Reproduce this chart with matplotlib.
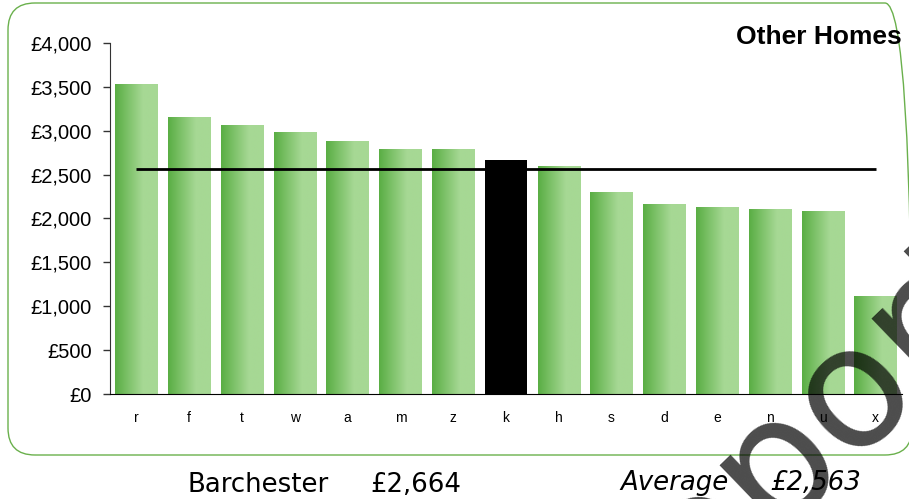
import numpy as np
import matplotlib
matplotlib.use("Agg")
import matplotlib.pyplot as plt
from matplotlib.patches import FancyBboxPatch
from matplotlib.transforms import IdentityTransform
from matplotlib.colors import to_rgb

plt.rcParams['font.family'] = ['Liberation Sans', 'DejaVu Sans']

# ---- data ----
categories = ['r', 'f', 't', 'w', 'a', 'm', 'z', 'k', 'h', 's', 'd', 'e', 'n', 'u', 'x']
values = [3533, 3157, 3066, 2986, 2887, 2796, 2792, 2664, 2598, 2302, 2169, 2127, 2108, 2089, 1117]
highlight = 'k'
average = 2563
barchester_value = 2664
yticks = [0, 500, 1000, 1500, 2000, 2500, 3000, 3500, 4000]
title = 'Other Homes'
watermark = 'Report'

W, H, DPI = 909, 499, 100
fig = plt.figure(figsize=(W / DPI, H / DPI), dpi=DPI)
fig.patch.set_facecolor('white')

# rounded border (pixel coordinates)
box = FancyBboxPatch((8, H - 455), 904, 452, boxstyle="round,pad=0,rounding_size=27",
                     transform=IdentityTransform(), facecolor='none',
                     edgecolor='#6ab04c', linewidth=1.0, zorder=0)
fig.patches.append(box)

ax = fig.add_axes([110 / W, 1 - 394 / H, 792 / W, 351 / H])
ax.set_facecolor('none')

x = np.arange(len(categories))
bars = ax.bar(x, values, width=0.8, color='none', edgecolor='none', zorder=2)

dark = np.array(to_rgb('#5aae44'))
light = np.array(to_rgb('#a6d894'))
t = np.clip(np.linspace(0, 1, 64) / 0.65, 0, 1)
grad = (dark[None, :] * (1 - t[:, None]) + light[None, :] * t[:, None])[None, :, :]

for cat, b in zip(categories, bars):
    x0, w, h = b.get_x(), b.get_width(), b.get_height()
    if cat == highlight:
        b.set_facecolor('black')
        continue
    im = ax.imshow(grad, extent=[x0, x0 + w, 0, h], aspect='auto', zorder=2,
                   interpolation='bilinear')
    im.set_clip_path(b)

ax.hlines(average, x[0], x[-1], colors='black', linewidth=2.0, zorder=3)

ax.set_xlim(-0.5, len(categories) - 0.5)
ax.set_ylim(0, 4000)
ax.set_yticks(yticks)
ax.set_yticklabels([f"£{v:,}" for v in yticks], fontsize=14.5, family=['Liberation Sans'])
ax.set_xticks(x)
ax.set_xticklabels(categories, fontsize=10, family=['Liberation Sans'])
ax.tick_params(axis='x', length=0, pad=12)
ax.tick_params(axis='y', length=5, width=1, direction='out', pad=8, color='#333333')
for s in ['top', 'right']:
    ax.spines[s].set_visible(False)
ax.spines['left'].set_color('#333333')
ax.spines['bottom'].set_color('black')

fig.text(902 / W, 1 - 37 / H, title, ha='right', va='center', fontsize=19,
         fontweight='bold', family=['Liberation Sans'])

fs = 18.7
fig.text(187 / W, 1 - 492 / H, 'Barchester', ha='left', va='baseline', fontsize=fs,
         family=['DejaVu Sans'])
fig.text(370 / W, 1 - 492 / H, f"£{barchester_value:,}", ha='left', va='baseline',
         fontsize=fs, family=['DejaVu Sans'])
fig.text(620 / W, 1 - 490 / H, 'Average', ha='left', va='baseline', fontsize=fs,
         style='italic', family=['DejaVu Sans'])
fig.text(770 / W, 1 - 490 / H, f"£{average:,}", ha='left', va='baseline', fontsize=fs,
         style='italic', family=['DejaVu Sans'])

fig.text(817 / W, 1 - 485 / H, watermark, rotation=44, rotation_mode='anchor',
         ha='center', va='baseline', fontsize=122, family=['DejaVu Sans'],
         color='black', alpha=0.7, zorder=20)

fig.savefig('out.png', dpi=DPI)
